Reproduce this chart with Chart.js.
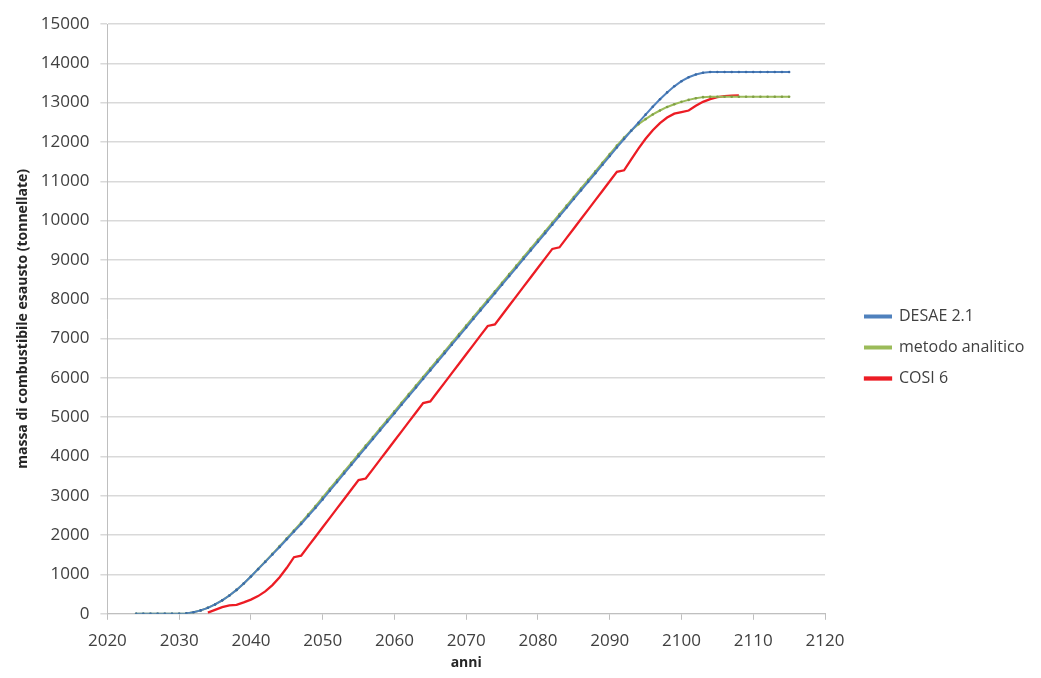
<!DOCTYPE html>
<html lang="it">
<head>
<meta charset="UTF-8">
<title>Massa di combustibile esausto</title>
<script src="https://cdn.jsdelivr.net/npm/chart.js"></script>
<style>
  html, body { margin: 0; padding: 0; background: #ffffff; }
  #wrap { width: 1041px; height: 678px; }
</style>
</head>
<body>
<div id="wrap"><canvas id="chart" width="1041" height="678"></canvas></div>
<script>
// anni di inizio delle serie
const desaeStart = 2024;
const analiticoStart = 2024;
const cosiStart = 2034;

// DESAE 2.1 (2024-2115)
const desae = [
  0, 0, 0, 0, 0, 0, 0, 10, 38, 86, 152, 238, 342, 466, 608, 770,
  950, 1135, 1320, 1510, 1700, 1895, 2090, 2285, 2490, 2695,
  2910, 3130, 3350, 3570, 3790, 4010, 4228, 4446, 4664, 4882,
  5100, 5318, 5536, 5754, 5972, 6190, 6408, 6626, 6844, 7062,
  7280, 7498, 7716, 7934, 8152, 8370, 8588, 8806, 9024, 9242,
  9460, 9678, 9896, 10114, 10332, 10550, 10768, 10986, 11204, 11422,
  11640, 11860, 12075, 12285, 12490, 12695, 12895, 13085, 13260, 13415,
  13545, 13645, 13715, 13760, 13780, 13780, 13780, 13780, 13780, 13780,
  13780, 13780, 13780, 13780, 13780, 13780
];

// metodo analitico (2024-2115)
const analitico = [
  0, 0, 0, 0, 0, 0, 0, 10, 38, 86, 152, 238, 342, 466, 608, 770,
  950, 1140, 1330, 1525, 1720, 1920, 2120, 2320, 2530, 2740,
  2960, 3180, 3400, 3620, 3840, 4060, 4278, 4496, 4714, 4932,
  5150, 5368, 5586, 5804, 6022, 6240, 6458, 6676, 6894, 7112,
  7330, 7548, 7766, 7984, 8202, 8420, 8638, 8856, 9074, 9292,
  9510, 9728, 9946, 10164, 10382, 10600, 10818, 11036, 11254, 11472,
  11690, 11908, 12110, 12290, 12450, 12580, 12700, 12800, 12890, 12960,
  13020, 13070, 13110, 13140, 13150, 13150, 13150, 13150, 13150, 13150,
  13150, 13150, 13150, 13150, 13150, 13150
];

// COSI 6 (2034-2108)
const cosi = [
  30, 100, 170, 215, 225, 290, 360, 450, 570, 730,
  930, 1170, 1440, 1480, 1720, 1960, 2200, 2440, 2680, 2920,
  3160, 3400, 3440, 3680, 3920, 4160, 4400, 4640, 4880, 5120,
  5360, 5400, 5640, 5880, 6120, 6360, 6600, 6840, 7080, 7320,
  7360, 7600, 7840, 8080, 8320, 8560, 8800, 9040, 9280, 9320,
  9560, 9800, 10040, 10280, 10520, 10760, 11000, 11240, 11280, 11560,
  11830, 12080, 12300, 12480, 12620, 12720, 12760, 12800, 12920, 13020,
  13090, 13140, 13165, 13180, 13185
];

const seriesNames = ['DESAE 2.1', 'metodo analitico', 'COSI 6'];

function toPoints(start, values) {
  return values.map((v, i) => ({ x: start + i, y: v }));
}

// legenda a larghezza fissa, spostata un po' a destra del grafico
const legendWidth = 206;
const legendLeft = 850;
const legendPlace = {
  id: 'legendPlace',
  afterInit(chart) {
    const lg = chart.legend;
    const fit = lg.fit;
    lg.fit = function () { fit.call(this); this.width = legendWidth; };
  },
  afterLayout(chart) {
    const lg = chart.legend;
    lg.left = legendLeft;
    lg.right = legendLeft + legendWidth;
  }
};

const ctx = document.getElementById('chart').getContext('2d');
new Chart(ctx, {
  type: 'line',
  data: {
    datasets: [
      {
        label: seriesNames[0],
        data: toPoints(desaeStart, desae),
        borderColor: '#4f81bd',
        backgroundColor: '#4f81bd',
        borderWidth: 2,
        pointRadius: 1.3,
        pointBorderWidth: 0,
        pointBackgroundColor: '#3a6aa6',
        tension: 0
      },
      {
        label: seriesNames[1],
        data: toPoints(analiticoStart, analitico),
        borderColor: '#9bbb59',
        backgroundColor: '#9bbb59',
        borderWidth: 2,
        pointRadius: 1.3,
        pointBorderWidth: 0,
        pointBackgroundColor: '#7f9f45',
        tension: 0
      },
      {
        label: seriesNames[2],
        data: toPoints(cosiStart, cosi),
        borderColor: '#ec1c24',
        backgroundColor: '#ec1c24',
        borderWidth: 2.3,
        pointRadius: 0,
        tension: 0
      }
    ]
  },
  plugins: [legendPlace],
  options: {
    responsive: false,
    animation: false,
    layout: { padding: { left: 11, top: 24, right: 10, bottom: 7 } },
    plugins: {
      legend: {
        position: 'right',
        labels: {
          boxWidth: 26,
          boxHeight: 2,
          padding: 15,
          color: '#404040',
          font: { family: 'Open Sans', size: 16 }
        }
      },
      tooltip: { enabled: false }
    },
    scales: {
      x: {
        type: 'linear',
        min: 2020,
        max: 2120,
        title: {
          display: true,
          text: 'anni',
          color: '#262626',
          font: { family: 'Open Sans', size: 14, weight: 'bold' },
          padding: { top: -8, bottom: 0 }
        },
        ticks: {
          stepSize: 10,
          padding: 11,
          color: '#404040',
          font: { family: 'Open Sans', size: 17 },
          callback: v => String(v)
        },
        grid: { drawOnChartArea: false, color: '#bfbfbf', tickLength: 6 },
        border: { color: '#bfbfbf' }
      },
      y: {
        min: 0,
        max: 15000,
        title: {
          display: true,
          text: 'massa di combustibile esausto (tonnellate)',
          color: '#262626',
          font: { family: 'Open Sans', size: 14, weight: 'bold' },
          padding: { top: 4, bottom: -2 }
        },
        ticks: {
          stepSize: 1000,
          padding: 11,
          color: '#404040',
          font: { family: 'Open Sans', size: 17 },
          callback: v => String(v)
        },
        grid: { color: '#d9d9d9', lineWidth: 1.5, tickLength: 7 },
        border: { color: '#bfbfbf' }
      }
    }
  }
});
</script>
</body>
</html>
